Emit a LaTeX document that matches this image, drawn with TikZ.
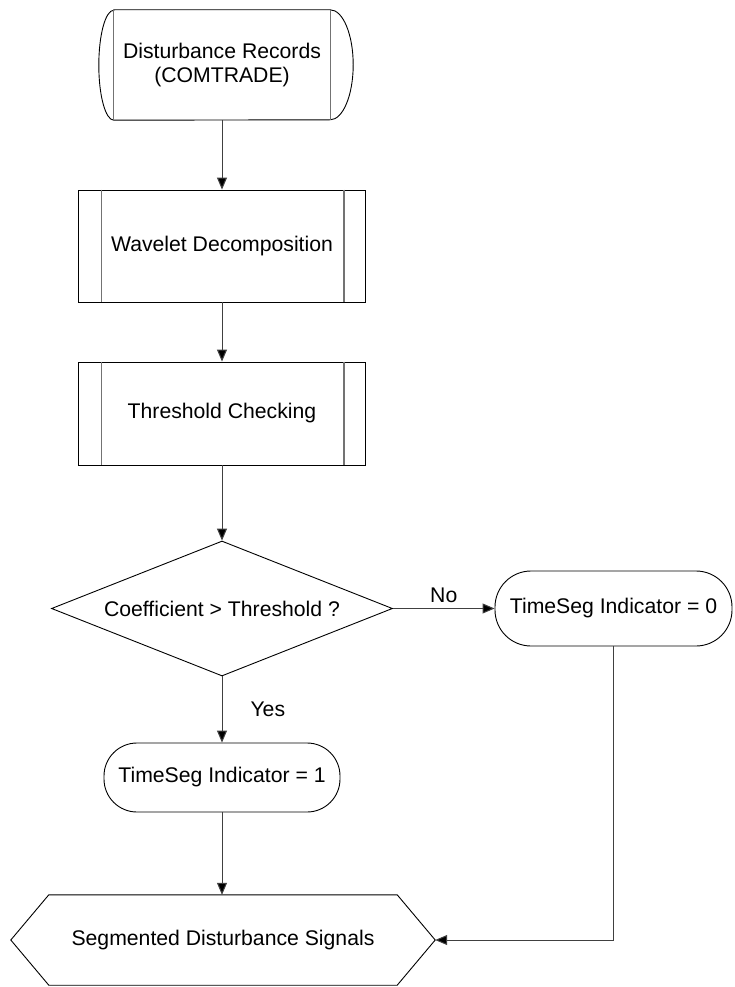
\documentclass[tikz,border=0pt]{standalone}
\usepackage{fontspec}
\setmainfont{Liberation Sans}
\usetikzlibrary{shapes.geometric,arrows.meta}
\begin{document}
\begin{tikzpicture}[x=1pt,y=-1pt,
  font=\fontsize{21.2}{24.5}\selectfont,
  outline/.style={draw=black, line width=0.9pt},
  innerline/.style={draw=black!55, line width=1.1pt},
  conn/.style={draw=black!75, line width=1pt, -{Triangle[length=12pt,width=10pt,fill=black]}},
  lbl/.style={inner sep=0pt},
  procbox/.style={outline, rectangle, inner sep=0pt, minimum width=287pt},
  termbox/.style={outline, rectangle, inner sep=0pt},
]
\useasboundingbox (0,0) rectangle (735,987);

% stored data / records
\node[inner sep=0pt, minimum width=216pt, minimum height=110pt, align=center] (rec) at (222,65) {Disturbance Records\\(COMTRADE)};
\draw[outline] (rec.north west) -- (rec.north east)
  arc[start angle=90,end angle=-90,x radius=23pt,y radius=55pt]
  -- (rec.south west)
  arc[start angle=270,end angle=90,x radius=15pt,y radius=55pt] -- cycle;
\draw[innerline] (rec.north west) -- (rec.south west) (rec.north east) -- (rec.south east);

% predefined processes
\node[procbox, minimum height=112pt] (wav) at (222,246) {Wavelet Decomposition};
\draw[innerline] ([xshift=23pt]wav.north west) -- ([xshift=23pt]wav.south west)
  ([xshift=-22pt]wav.north east) -- ([xshift=-22pt]wav.south east);

\node[procbox, minimum height=103pt] (thr) at (222,413.5) {Threshold Checking};
\draw[innerline] ([xshift=23pt]thr.north west) -- ([xshift=23pt]thr.south west)
  ([xshift=-22pt]thr.north east) -- ([xshift=-22pt]thr.south east);

% decision
\node[outline, diamond, inner sep=0pt, aspect=2.526, minimum width=341pt, minimum height=135pt] (dia) at (222,608.5) {Coefficient > Threshold ?};

% terminators
\node[termbox, rounded corners=36pt, minimum width=237pt, minimum height=75pt] (ts0) at (613.5,608.5) {TimeSeg Indicator = 0};
\node[termbox, rounded corners=33pt, minimum width=236pt, minimum height=69pt] (ts1) at (222,777.5) {TimeSeg Indicator = 1};

% display (hexagon)
\node[inner sep=0pt, minimum width=348pt, minimum height=90pt] (hex) at (223,940) {Segmented Disturbance Signals};
\coordinate (hexR) at ([xshift=38pt]hex.east);
\coordinate (hexL) at ([xshift=-38pt]hex.west);
\draw[outline] (hex.north west) -- (hex.north east) -- (hexR) -- (hex.south east)
  -- (hex.south west) -- (hexL) -- cycle;

% connectors
\draw[conn] (rec.south) -- (rec.south |- wav.north);
\draw[conn] (wav.south) -- (thr.north);
\draw[conn] (thr.south) -- (dia.north);
\draw[conn] (dia.east) -- node[lbl, above=5pt] {No} (ts0.west);
\draw[conn] (dia.south) -- node[lbl, right=28pt] {Yes} (ts1.north);
\draw[conn] (ts1.south) -- (ts1.south |- hex.north);
\draw[conn] (ts0.south) |- (hexR);
\end{tikzpicture}
\end{document}
